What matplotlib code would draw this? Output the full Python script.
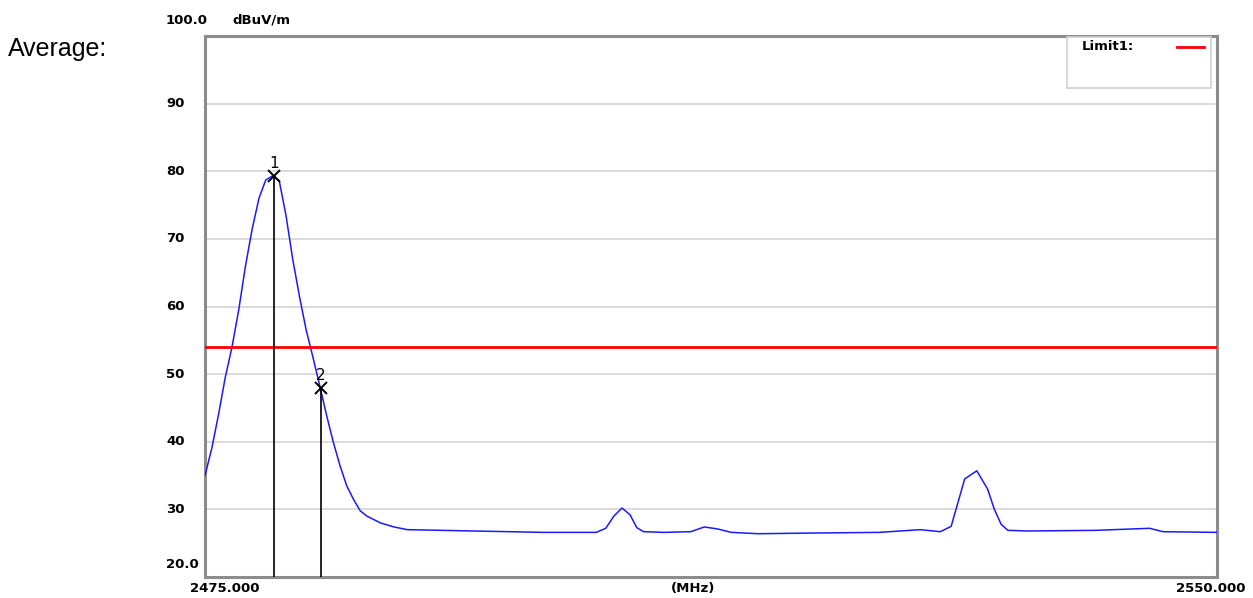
import numpy as np
import matplotlib
matplotlib.use('Agg')
import matplotlib.pyplot as plt
from matplotlib.transforms import blended_transform_factory

# Trace (average detector)
freq = [2475.0, 2475.5, 2476.0, 2476.5, 2477.0, 2477.5, 2478.0, 2478.5, 2479.0,
        2479.5, 2480.0, 2480.5, 2481.0, 2481.5, 2482.0, 2482.5, 2483.0, 2483.5,
        2484.0, 2484.5, 2485.0, 2485.5, 2486.0, 2486.5, 2487.0, 2488.0, 2489.0,
        2490.0, 2495.0, 2500.0, 2504.0, 2504.7, 2505.3, 2505.9, 2506.5, 2507.0,
        2507.5, 2509.0, 2511.0, 2512.0, 2513.0, 2514.0, 2516.0, 2520.0, 2525.0,
        2528.0, 2529.5, 2530.3, 2530.8, 2531.3, 2532.2, 2533.0, 2533.5, 2534.0,
        2534.5, 2536.0, 2541.0, 2545.0, 2546.0, 2550.0]
level = [35.0, 39.0, 44.0, 49.5, 54.0, 59.5, 66.0, 71.5, 76.0,
         78.7, 79.3, 78.6, 73.5, 67.0, 61.5, 56.5, 52.5, 48.3,
         44.0, 40.0, 36.5, 33.5, 31.5, 29.8, 29.0, 28.0, 27.4,
         27.0, 26.8, 26.6, 26.6, 27.2, 29.0, 30.2, 29.2, 27.3,
         26.7, 26.6, 26.7, 27.4, 27.1, 26.6, 26.4, 26.5, 26.6,
         27.0, 26.7, 27.5, 31.0, 34.5, 35.7, 33.0, 30.0, 27.8,
         26.9, 26.8, 26.9, 27.2, 26.7, 26.6]

marker_freq = [2480.1, 2483.6]
marker_level = [79.3, 47.9]
marker_names = ['1', '2']

limit1 = 54.0
y_ticks = [30, 40, 50, 60, 70, 80, 90]

fig = plt.figure(figsize=(12.53, 5.98), dpi=100)
ax = fig.add_axes([205 / 1253, 1 - 577 / 598, 1012 / 1253, 541 / 598])
ax.set_xlim(2475, 2550)
ax.set_ylim(20, 100)

for y in y_ticks:
    ax.axhline(y, color='#d4d4d4', linewidth=1.2, zorder=0)

ax.plot(freq, level, color='#1a1aff', linewidth=1.1, zorder=3)
ax.axhline(limit1, color='#ff0000', linewidth=2.0, zorder=4)

for f, l, n in zip(marker_freq, marker_level, marker_names):
    ax.plot([f, f], [20, l], color='black', linewidth=1.2, zorder=5)
    ax.plot(f, l, marker='x', color='black', markersize=8, mew=1.4, zorder=6)
    ax.text(f, l + 0.8, n, ha='center', va='bottom', fontsize=11, color='black')

ax.set_xticks([])
ax.set_yticks([])
for s in ax.spines.values():
    s.set_color('#8c8c8c')
    s.set_linewidth(2.2)

lab = dict(fontsize=9.5, fontweight='bold', color='black')
tr = blended_transform_factory(ax.transAxes, ax.transData)
xl = (166 - 205) / 1012
for y in y_ticks:
    ax.text(xl, y, str(y), ha='left', va='center', transform=tr, **lab)
ax.text(xl, 21.8, '20.0', ha='left', va='center', transform=tr, **lab)
ax.text(xl, 102.3, '100.0', ha='left', va='center', transform=tr, **lab)
ax.text((232 - 205) / 1012, 102.3, 'dBuV/m', ha='left', va='center', transform=tr, **lab)

ax.text(2476.5, 18.3, '2475.000', ha='center', va='center', **lab)
ax.text(2549.5, 18.3, '2550.000', ha='center', va='center', **lab)
ax.text(2511.2, 18.3, '(MHz)', ha='center', va='center', **lab)

# legend box
bx0, bx1 = (1067 - 205) / 1012, (1211 - 205) / 1012
by0, by1 = (577 - 88) / 541, (577 - 37) / 541
ax.add_patch(plt.Rectangle((bx0, by0), bx1 - bx0, by1 - by0, transform=ax.transAxes,
                           facecolor='white', edgecolor='#cfcfcf', linewidth=1.2, zorder=7))
ly = (577 - 47) / 541
ax.text((1082 - 205) / 1012, ly, 'Limit1:', ha='left', va='center', transform=ax.transAxes,
        zorder=8, **lab)
ax.plot([(1177 - 205) / 1012, (1204 - 205) / 1012], [ly, ly], color='#ff0000', linewidth=2.0,
        transform=ax.transAxes, zorder=8)

fig.text(8 / 1253, 1 - 49 / 598, 'Average:', ha='left', va='center', fontsize=18,
         family='Liberation Sans')

fig.savefig('out.png', dpi=100)
